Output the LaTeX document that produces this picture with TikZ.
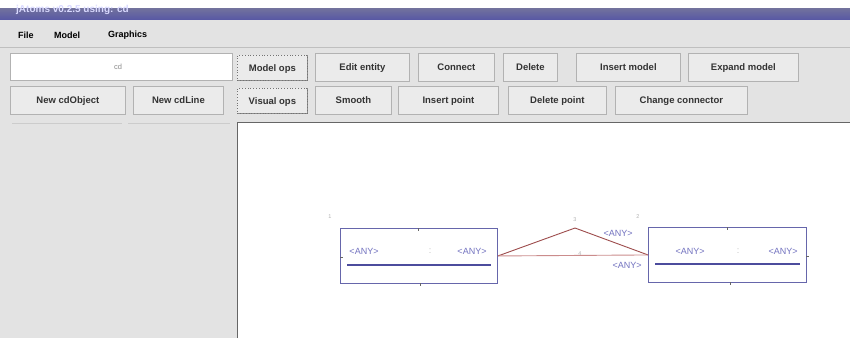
\documentclass[tikz,border=0pt]{standalone}
\usepackage{fontspec}
\setmainfont{Liberation Sans}
\begin{document}
\begin{tikzpicture}[x=1pt,y=-1pt,
  btn/.style={draw=gray!60, fill=black!8, line width=0.8pt, inner sep=0pt, font=\bfseries\fontsize{9.5}{11}\selectfont, text=black!80, text height=6.8pt, text depth=0.4pt,
    append after command={\pgfextra{\draw[black!45, line width=1pt] (\tikzlastnode.north east) -- (\tikzlastnode.south east) -- (\tikzlastnode.south west);}}},
  ent/.style={draw=black!55!blue!60, line width=0.9pt, fill=white},
  anytext/.style={font=\fontsize{9}{10}\selectfont, text=black!45!blue!55, inner sep=0.5pt},
  tiny/.style={font=\fontsize{5.5}{6}\selectfont, text=black!30, inner sep=0pt},
  conn/.style={draw=red!45!black!70, line width=0.9pt}]
\useasboundingbox (0,0) rectangle (850,338);
% backgrounds
\fill[white] (0,0) rectangle (850,8);
\fill[black!11] (0,19) rectangle (850,338);
\shade[top color=blue!30!black!55, bottom color=blue!45!black!65] (0,8) rectangle (850,19);
\node[anchor=west, text=white!85!blue, font=\bfseries\fontsize{10}{11}\selectfont, inner sep=0pt] (title) at (16,10) {jAtoms v0.2.5 using: cd};
% menu
\node[anchor=west, font=\bfseries\fontsize{9}{10}\selectfont, inner sep=0pt] (mfile) at (18,35) {File};
\node[anchor=west, font=\bfseries\fontsize{9}{10}\selectfont, inner sep=0pt] (mmodel) at (54,35) {Model};
\node[anchor=west, font=\bfseries\fontsize{9}{10}\selectfont, inner sep=0pt] (mgraph) at (108,35) {Graphics};
\draw[black!25] (0,47) -- (850,47);
% row 1
\node[draw=gray!60, fill=white, minimum width=222pt, minimum height=27pt, anchor=north west, inner sep=0pt] (field) at (10,53) {};
\node[font=\fontsize{7.5}{8}\selectfont, text=black!45] (fieldtxt) at (118,67) {cd};
\node[btn, minimum width=70pt, minimum height=25pt, anchor=north west, draw=black!55, dotted] (mops) at (237,55) {Model ops};
\node[btn, minimum width=94pt, minimum height=28pt, anchor=north west] (edit) at (315,53) {Edit entity};
\node[btn, minimum width=76pt, minimum height=28pt, anchor=north west] (connect) at (418,53) {Connect};
\node[btn, minimum width=54pt, minimum height=28pt, anchor=north west] (delete) at (503,53) {Delete};
\node[btn, minimum width=104pt, minimum height=28pt, anchor=north west] (insmodel) at (576,53) {Insert model};
\node[btn, minimum width=110pt, minimum height=28pt, anchor=north west] (expmodel) at (688,53) {Expand model};
% row 2
\node[btn, minimum width=115pt, minimum height=28pt, anchor=north west] (newobj) at (10,86) {New cdObject};
\node[btn, minimum width=90pt, minimum height=28pt, anchor=north west] (newline) at (133,86) {New cdLine};
\node[btn, minimum width=70pt, minimum height=25pt, anchor=north west, draw=black!55, dotted] (vops) at (237,88) {Visual ops};
\node[btn, minimum width=76pt, minimum height=28pt, anchor=north west] (smooth) at (315,86) {Smooth};
\node[btn, minimum width=100pt, minimum height=28pt, anchor=north west] (inspt) at (398,86) {Insert point};
\node[btn, minimum width=98pt, minimum height=28pt, anchor=north west] (delpt) at (508,86) {Delete point};
\node[btn, minimum width=132pt, minimum height=28pt, anchor=north west] (chconn) at (615,86) {Change connector};
% left panel & canvas
\fill[black!11] (10,120) rectangle (235,338);
\draw[black!20] (12,123) -- (122,123);
\draw[black!20] (128,123) -- (230,123);
\fill[white] (237,122) rectangle (850,338);
\draw[black!60, line width=1.4pt] (237.7,338) -- (237.7,122.7) -- (850,122.7);
% entity 1
\node[ent, minimum width=157pt, minimum height=55pt, anchor=north west, inner sep=0pt] (e1) at (340,228) {};
\node[anytext] (e1a) at (364,251) {<ANY>};
\node[anytext, text=black!25] (e1c) at (430,251) {:};
\node[anytext] (e1b) at (472,251) {<ANY>};
\draw[black!55!blue!70, line width=1.2pt] (347,265) -- (491,265);
\node[tiny] (l1) at (330,217) {1};
% entity 2
\node[ent, minimum width=158pt, minimum height=55pt, anchor=north west, inner sep=0pt] (e2) at (648,227) {};
\node[anytext] (e2a) at (690,251) {<ANY>};
\node[anytext, text=black!25] (e2c) at (738,251) {:};
\node[anytext] (e2b) at (783,251) {<ANY>};
\draw[black!55!blue!70, line width=1.2pt] (655,264) -- (800,264);
\node[tiny] (l2) at (638,217) {2};
% connectors
\coordinate (p1) at (e1.east);
\coordinate (apex) at (575,228);
\coordinate (p2) at (e2.west);
\draw[conn] (p1) -- (apex) -- (p2);
\draw[conn, draw=red!55!black!45] (p1) -- (p2);
\node[tiny] (l3) at (575,220) {3};
\node[tiny] (l4) at (580,254) {4};
\node[anytext] (c1) at (618,233) {<ANY>};
\node[anytext] (c2) at (627,265) {<ANY>};
% tick marks
\draw[black!60] (418,228) -- (418,231);
\draw[black!60] (420,283) -- (420,286);
\draw[black!60] (340,257) -- (343,257);
\draw[black!60] (727,227) -- (727,230);
\draw[black!60] (730,282) -- (730,285);
\draw[black!60] (806,256) -- (809,256);
\end{tikzpicture}
\end{document}
